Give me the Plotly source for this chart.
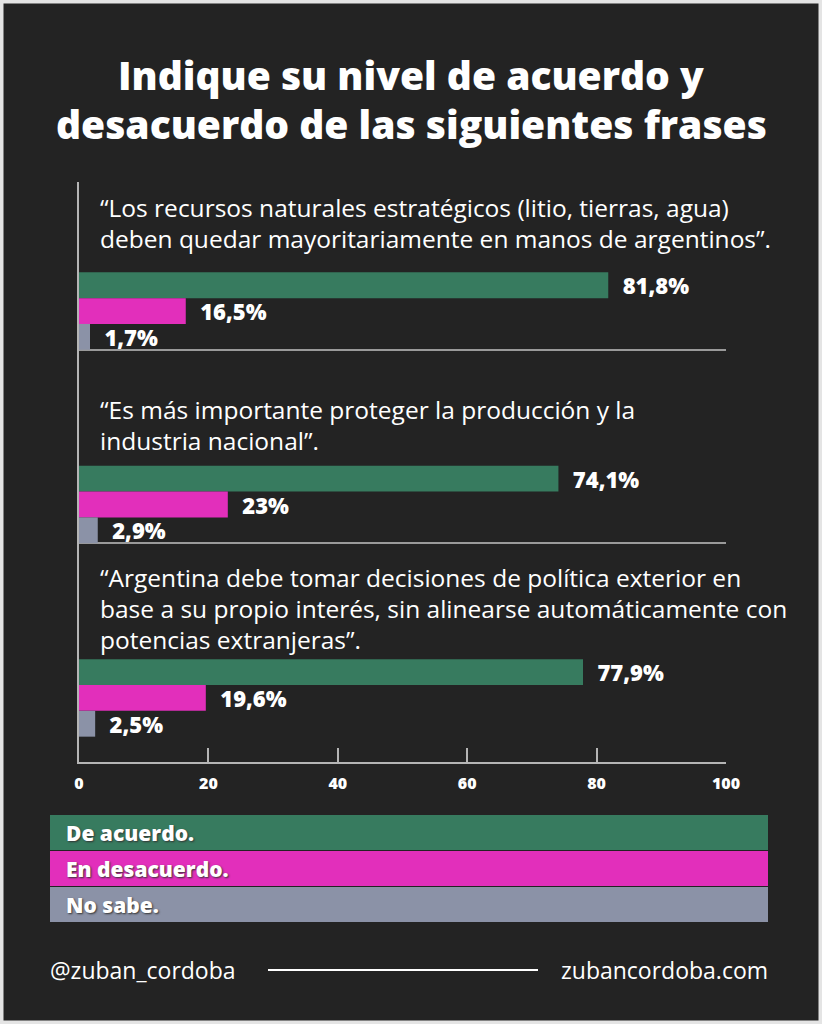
import plotly.graph_objects as go

STATEMENTS = [
    "“Los recursos naturales estratégicos (litio, tierras, agua)<br>"
    "deben quedar mayoritariamente en manos de argentinos”.",
    "“Es más importante proteger la producción y la<br>industria nacional”.",
    "“Argentina debe tomar decisiones de política exterior en<br>"
    "base a su propio interés, sin alinearse automáticamente con<br>"
    "potencias extranjeras”.",
]
TITLE_LINES = ["Indique su nivel de acuerdo y", "desacuerdo de las siguientes frases"]
SERIES = ["De acuerdo.", "En desacuerdo.", "No sabe."]
DE_ACUERDO = [81.8, 74.1, 77.9]
EN_DESACUERDO = [16.5, 23.0, 19.6]
NO_SABE = [1.7, 2.9, 2.5]
X_TICKS = [0, 20, 40, 60, 80, 100]

COLORS = ["#377b5f", "#e22fbb", "#8b92a7"]
BG = "#232323"
FONT = "Open Sans"

W, H = 822, 1024
L, R, T, B = 79, 96, 182, 262


def px(x):
    return (x - L) / (W - L - R)


def py(y):
    return (H - B - y) / (H - T - B)


def pct(v):
    s = f"{v:.1f}".replace(".", ",")
    if s.endswith(",0"):
        s = s[:-2]
    return "  " + s + "%"


positions = list(range(len(STATEMENTS)))
fig = go.Figure()

for name, values, color in zip(SERIES, [DE_ACUERDO, EN_DESACUERDO, NO_SABE], COLORS):
    fig.add_trace(
        go.Bar(
            x=values,
            y=positions,
            orientation="h",
            name=name,
            marker=dict(color=color, line=dict(width=0)),
            text=[pct(v) for v in values],
            textposition="outside",
            constraintext="none",
            cliponaxis=False,
            textfont=dict(family=FONT, size=22, color="white", weight=800),
            hoverinfo="skip",
        )
    )

# statements above each group of bars, one annotation per line
# (pixel offset of the last line's centre above the group centre)
last_line_shift = [73, 64.5, 58]
LINE_PITCH = 31
for pos, text, shift in zip(positions, STATEMENTS, last_line_shift):
    lines = text.split("<br>")
    n = len(lines)
    for i, line in enumerate(lines):
        fig.add_annotation(
            x=0, y=pos, xref="x", yref="y",
            text=line, showarrow=False,
            xanchor="left", yanchor="middle", align="left",
            xshift=19, yshift=shift + (n - 1 - i) * LINE_PITCH,
            font=dict(family=FONT, size=24.5, color="white"),
        )

for line, yc in zip(TITLE_LINES, [74, 124]):
    fig.add_annotation(
        x=px(411), y=py(yc), xref="paper", yref="paper",
        text=line, showarrow=False, xanchor="center", yanchor="middle",
        font=dict(family=FONT, size=39, color="white", weight=800),
    )

# legend strip
row_tops = [815, 851, 887]
for name, color, top in zip(SERIES, COLORS, row_tops):
    fig.add_shape(
        type="rect", xref="paper", yref="paper",
        x0=px(50), x1=px(768), y0=py(top), y1=py(top + 35),
        fillcolor=color, line=dict(width=0), layer="below",
    )
    fig.add_annotation(
        x=px(64), y=py(top + 17.5), xref="paper", yref="paper",
        text=name, showarrow=False, xanchor="left", yanchor="middle",
        font=dict(family=FONT, size=21, color="white", weight=800,
                  shadow="1px 1px 2px #333"),
    )

# footer
fig.add_annotation(
    x=px(48), y=py(970), xref="paper", yref="paper",
    text="@zuban_cordoba", showarrow=False, xanchor="left", yanchor="middle",
    font=dict(family=FONT, size=23, color="white"),
)
fig.add_annotation(
    x=px(770), y=py(970), xref="paper", yref="paper",
    text="zubancordoba.com", showarrow=False, xanchor="right", yanchor="middle",
    font=dict(family=FONT, size=23, color="white"),
)
fig.add_shape(
    type="line", xref="paper", yref="paper",
    x0=px(268), x1=px(538), y0=py(970), y1=py(970),
    line=dict(color="white", width=2),
)

# light frame round the card
fig.add_shape(
    type="rect", xref="paper", yref="paper",
    x0=px(0), x1=px(W), y0=py(H), y1=py(0),
    line=dict(color="#e4e4e4", width=7), fillcolor="rgba(0,0,0,0)",
)

bar_half = (1 - 0.6) / 2
fig.update_xaxes(
    range=[0, 100],
    tickvals=X_TICKS,
    ticks="inside", ticklen=14, tickwidth=1.5, tickcolor="#b5b5b5",
    showline=True, linecolor="#b5b5b5", linewidth=1.5,
    showgrid=False, zeroline=False,
    tickfont=dict(family=FONT, size=16, color="white", weight=800),
    ticklabelstandoff=6,
    fixedrange=True,
)
fig.update_yaxes(
    range=[2.331, -0.667],
    tickvals=[p + bar_half for p in positions[:-1]],
    showticklabels=False, ticks="",
    showgrid=True, gridcolor="#9a9a9a", gridwidth=1.5,
    showline=True, linecolor="#b5b5b5", linewidth=1.5,
    zeroline=False, fixedrange=True,
)
fig.update_layout(
    width=W, height=H,
    margin=dict(l=L, r=R, t=T, b=B),
    barmode="group", bargap=0.6, bargroupgap=0,
    paper_bgcolor=BG, plot_bgcolor=BG,
    showlegend=False,
    font=dict(family=FONT, color="white"),
)

fig.write_html(
    "out.html",
    config={"displayModeBar": False},
    post_script="document.body.style.margin = '0';",
)
